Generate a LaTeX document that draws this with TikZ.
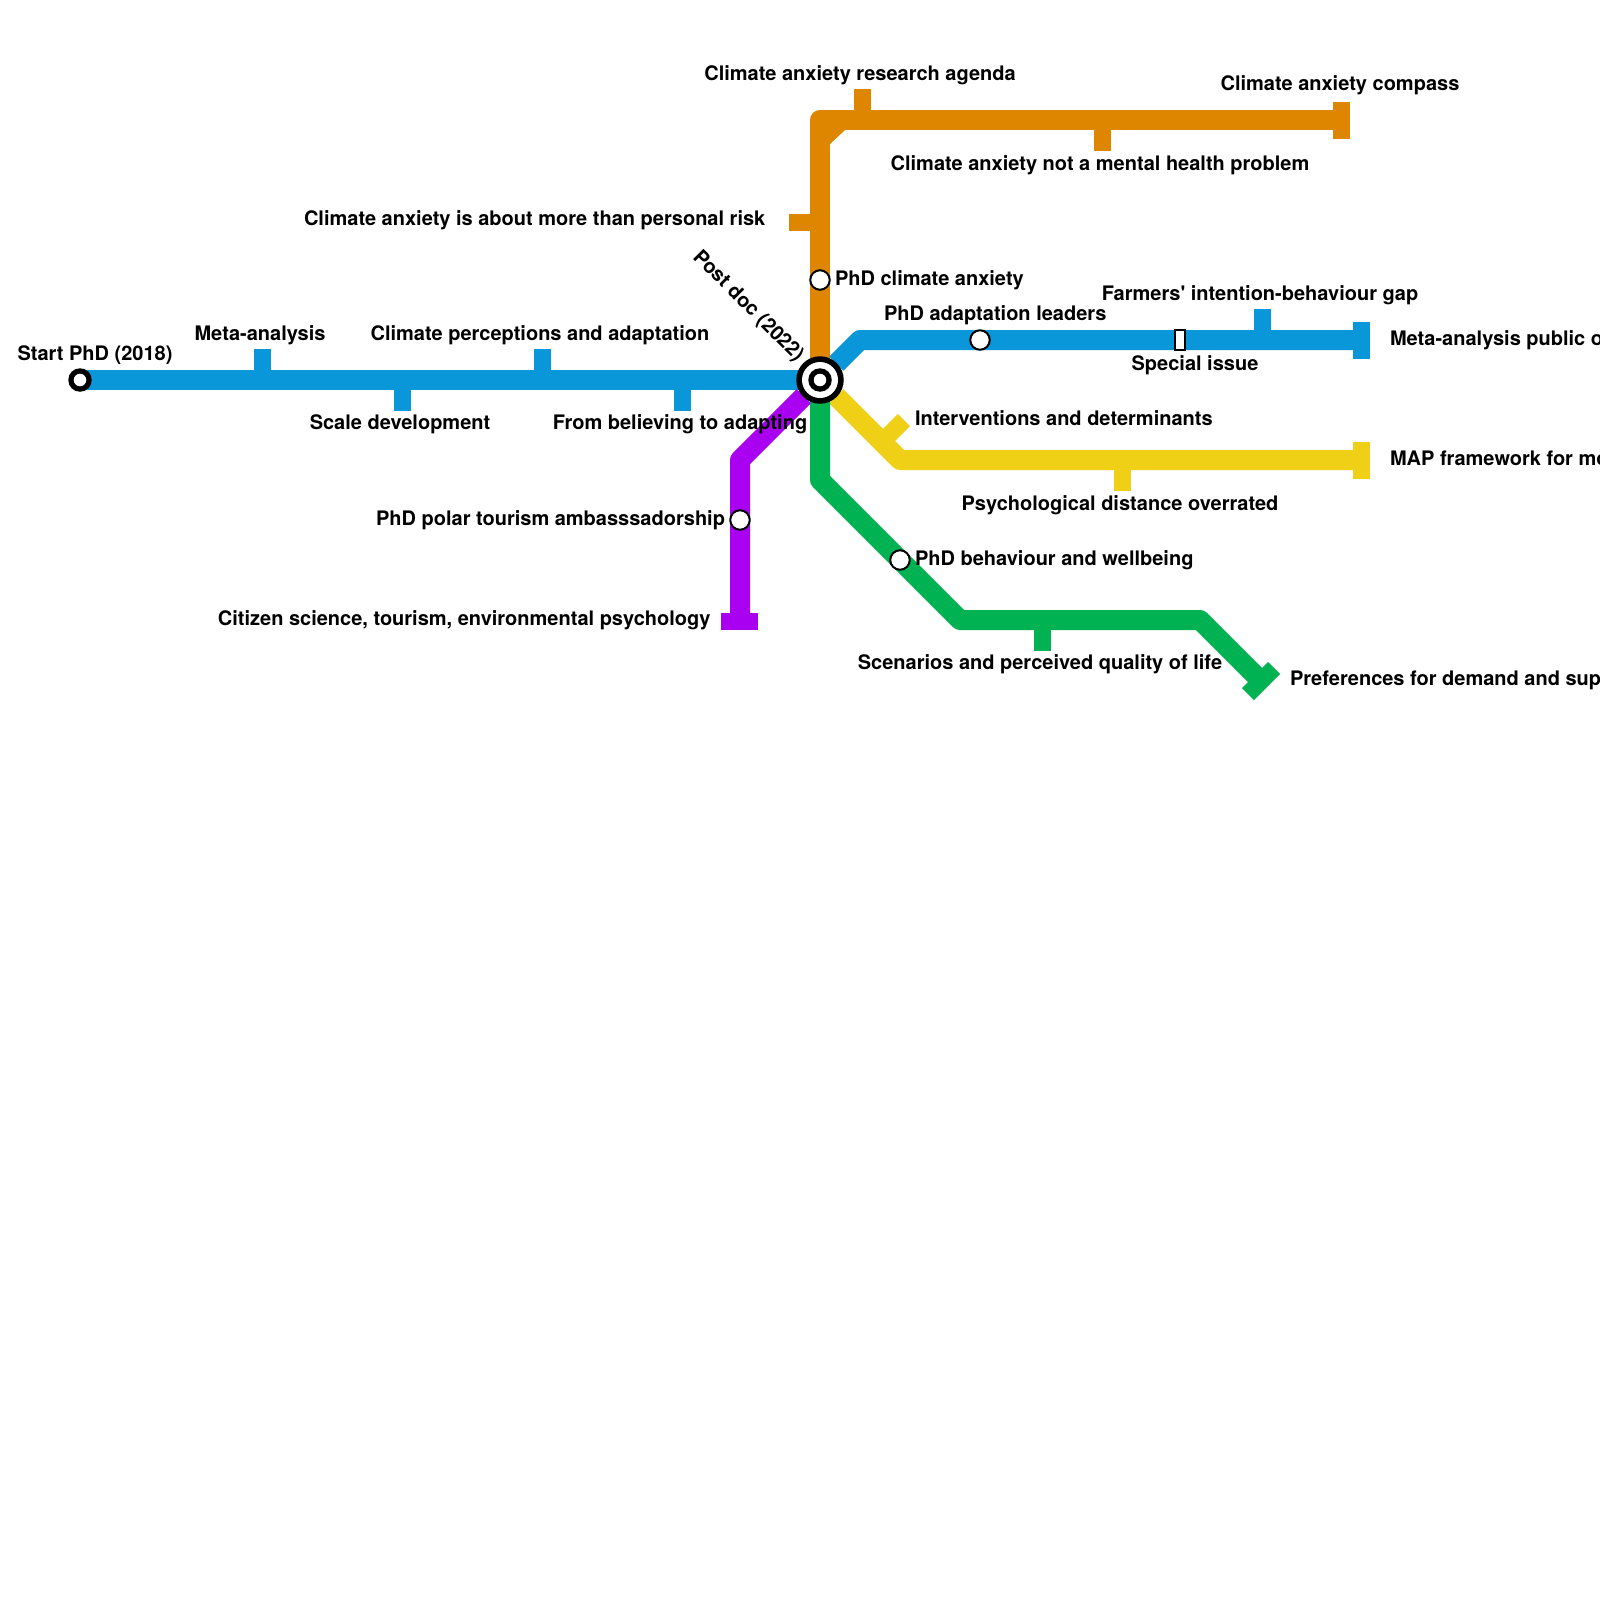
\documentclass[tikz,border=0pt]{standalone}
\usepackage{fontspec}
\setmainfont{TeX Gyre Heros}
\definecolor{lblue}{HTML}{0A97D9}
\definecolor{lorange}{HTML}{DF8600}
\definecolor{lyellow}{HTML}{F0D016}
\definecolor{lgreen}{HTML}{00B251}
\definecolor{lpurple}{HTML}{A900F2}
\tikzset{
  metro/.style={line width=20pt,line join=round,line cap=butt},
  offhub/.style={shorten <=23pt},
  tickbox/.style={rectangle,draw=none,inner sep=0pt,outer sep=0pt,minimum width=17pt,minimum height=#1},
  endbox/.style={rectangle,draw=none,inner sep=0pt,outer sep=0pt,minimum width=#1,minimum height=17pt},
  stopring/.style={circle,fill=white,draw=black,line width=2pt,inner sep=0pt,outer sep=0pt,minimum size=19.5pt},
  lab/.style={inner sep=0pt,outer sep=0pt,text=black,font=\fontsize{20}{24}\selectfont\bfseries},
  disc/.style={circle,draw=none,inner sep=0pt,outer sep=0pt,minimum size=#1},
}
\begin{document}
\begin{tikzpicture}[x=1pt,y=-1pt]
\useasboundingbox (0,0) rectangle (1600,1600);
\fill[white] (0,0) rectangle (1600,1600);
% anchors
\coordinate (hub) at (820,380);
\coordinate (start) at (80,380);
\coordinate (oc) at (820,120);
\coordinate (bb) at (860,340);
\coordinate (yb) at (900,460);
\coordinate (gb1) at (820,480);
\coordinate (gb2) at (960,620);
\coordinate (gb3) at (1200,620);
\coordinate (pb) at (740,460);
% end bars
\node[tickbox=37pt,fill=lorange] (eorange) at (1341.5,120.5) {};
\node[tickbox=37pt,fill=lblue] (eblue) at (1361.5,340.5) {};
\node[tickbox=37pt,fill=lyellow] (eyellow) at (1361.5,460.5) {};
\node[endbox=37pt,fill=lpurple] (epurple) at (739.7,621.5) {};
\node[endbox=37pt,fill=lgreen,rotate=45] (egreen) at (1261,681) {};
% orange line
\node[tickbox=31pt,fill=lorange] (t1) at (862.5,104.5) {};
\node[tickbox=31pt,fill=lorange] (t2) at (1102.5,135.5) {};
\node[endbox=31pt,fill=lorange] (t3) at (804.5,222.5) {};
\draw[metro,lorange] (hub) -- (oc) -- (oc -| eorange.center);
\fill[lorange] (829,129) -- (845,129) -- (845,130) -- (830,144) -- (829,144) -- cycle;
% blue lines
\node[tickbox=31pt,fill=lblue] (t4) at (262.5,364.5) {};
\node[tickbox=31pt,fill=lblue] (t5) at (402.5,395.5) {};
\node[tickbox=31pt,fill=lblue] (t6) at (542.5,364.5) {};
\node[tickbox=31pt,fill=lblue] (t7) at (682.5,395.5) {};
\node[tickbox=31pt,fill=lblue] (t8) at (1262.5,324.5) {};
\draw[metro,lblue] (start) -- (hub);
\draw[metro,lblue,offhub] (hub) -- (bb) -- (bb -| eblue.center);
% yellow line
\node[endbox=31pt,fill=lyellow,rotate=45] (t9) at (893,431) {};
\node[tickbox=31pt,fill=lyellow] (t10) at (1122.5,475.5) {};
\draw[metro,lyellow,offhub] (hub) -- (yb) -- (yb -| eyellow.center);
% green line
\node[tickbox=31pt,fill=lgreen] (t11) at (1042.5,635.5) {};
\draw[metro,lgreen] (hub) -- (gb1) -- (gb2) -- (gb3) -- (egreen.center);
% purple line
\draw[metro,lpurple,offhub] (hub) -- (pb) -- (pb |- epurple.center);
% stops
\node[stopring] (s1) at (820,280) {};
\node[stopring] (s2) at (980,340) {};
\node[stopring] (s3) at (740,520) {};
\node[stopring] (s4) at (900,560) {};
\node[rectangle,fill=white,draw=black,line width=2pt,inner sep=0pt,minimum width=10pt,minimum height=20pt] (s5) at (1180,340) {};
% start
\node[disc=23.5pt,fill=black] (d1) at (start) {};
\node[disc=12.5pt,fill=white] (d2) at (start) {};
% hub
\node[disc=47.5pt,fill=black] (h1) at (hub) {};
\node[disc=36pt,fill=white] (h2) at (hub) {};
\node[disc=23.5pt,fill=black] (h3) at (hub) {};
\node[disc=12.5pt,fill=white] (h4) at (hub) {};
% labels
\node[lab,anchor=base west] (l1) at (17.5,360) {Start PhD (2018)};
\node[lab,anchor=base] (l2) at (260,340) {Meta-analysis};
\node[lab,anchor=base] (l3) at (540,340) {Climate perceptions and adaptation};
\node[lab,anchor=base] (l4) at (400,429.5) {Scale development};
\node[lab,anchor=base] (l5) at (680,429.5) {From believing to adapting};
\node[lab,anchor=base] (l6) at (860,81) {Climate anxiety research agenda};
\node[lab,anchor=base] (l7) at (1340,91) {Climate anxiety compass};
\node[lab,anchor=base] (l8) at (1100,170) {Climate anxiety not a mental health problem};
\node[lab,anchor=base east] (l9) at (765.3,225) {Climate anxiety is about more than personal risk};
\node[lab,anchor=base west] (l10) at (835,285) {PhD climate anxiety};
\node[lab,anchor=base west] (l11) at (884,320) {PhD adaptation leaders};
\node[lab,anchor=base] (l12) at (1260,300) {Farmers\textquotesingle{} intention-behaviour gap};
\node[lab,anchor=base] (l13) at (1195,370) {Special issue};
\node[lab,anchor=base west] (l14) at (1390,345) {Meta-analysis public o};
\node[lab,anchor=base west] (l15) at (1390,465) {MAP framework for mo};
\node[lab,anchor=base west] (l16) at (915,425) {Interventions and determinants};
\node[lab,anchor=base] (l17) at (1120,510.5) {Psychological distance overrated};
\node[lab,anchor=base west] (l18) at (915,565) {PhD behaviour and wellbeing};
\node[lab,anchor=base east] (l19) at (725,525) {PhD polar tourism ambasssadorship};
\node[lab,anchor=base east] (l20) at (710.5,625) {Citizen science, tourism, environmental psychology};
\node[lab,anchor=base] (l21) at (1040,669.5) {Scenarios and perceived quality of life};
\node[lab,anchor=base west] (l22) at (1290,685) {Preferences for demand and sup};
\node[lab,rotate=-45] (l23) at (748,306.5) {Post doc (2022)};
\end{tikzpicture}
\end{document}
